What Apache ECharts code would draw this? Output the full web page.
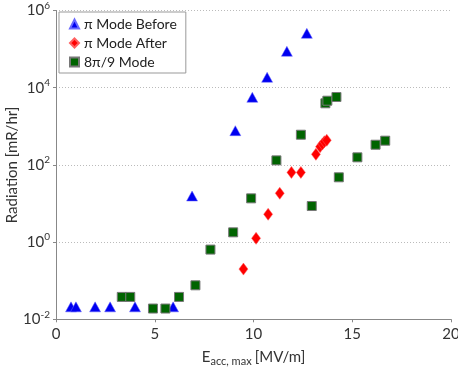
<!DOCTYPE html>
<html><head><meta charset="utf-8">
<script src="https://cdn.jsdelivr.net/npm/echarts@6/dist/echarts.min.js"></script>
<style>html,body{margin:0;padding:0;background:#fff}#c{width:458px;height:369px}</style>
</head><body><div id="c"></div>
<script>
const seriesNames = ['\u03c0 Mode Before', '\u03c0 Mode After', '8\u03c0/9 Mode'];
const beforeX = [0.76, 1.01, 1.98, 2.74, 4.00, 5.93, 6.89, 9.08, 9.94, 10.69, 11.69, 12.70];
const beforeY = [0.021, 0.021, 0.021, 0.021, 0.021, 0.021, 15.6, 770, 5640, 18600, 87700, 256000];
const afterX = [9.49, 10.13, 10.74, 11.33, 11.92, 12.40, 13.16, 13.37, 13.49, 13.59, 13.71];
const afterY = [0.20, 1.25, 5.25, 18.4, 64, 64, 188, 296, 347, 399, 434];
const modeX = [3.33, 3.76, 4.91, 5.54, 6.23, 7.06, 7.82, 8.97, 9.88, 12.95, 11.16, 12.40, 13.64, 13.74, 14.20, 14.32, 15.26, 16.18, 16.67];
const modeY = [0.038, 0.038, 0.019, 0.019, 0.038, 0.076, 0.64, 1.79, 13.6, 8.6, 131, 605, 3945, 4600, 5740, 47.7, 157, 333, 424];
const xTicks = [0, 5, 10, 15, 20];
const yTickExps = [-2, 0, 2, 4, 6];

const pairs = (xs, ys) => xs.map((x, i) => [x, ys[i]]);
const font = 'Lato, "DejaVu Sans", sans-serif';
const chart = echarts.init(document.getElementById('c'));
chart.setOption({
  animation: false,
  textStyle: { fontFamily: font },
  grid: { left: 56, right: 7, top: 10.5, bottom: 49.7, containLabel: false, outerBoundsMode: 'none' },
  legend: {
    orient: 'vertical', left: 59, top: 12, itemGap: 5,
    borderColor: '#999', borderWidth: 1, padding: [5, 9, 4, 10],
    itemWidth: 9, itemHeight: 9,
    textStyle: { fontSize: 14, color: '#222', fontFamily: font },
    data: [
      { name: seriesNames[0], icon: 'triangle' },
      { name: seriesNames[1], icon: 'diamond' },
      { name: seriesNames[2], icon: 'rect' }
    ]
  },
  xAxis: {
    type: 'value', min: xTicks[0], max: xTicks[xTicks.length - 1], interval: 5,
    axisLine: { lineStyle: { color: '#888' } },
    axisTick: { show: true, length: 3, lineStyle: { color: '#888' } },
    splitLine: { show: false },
    axisLabel: { fontSize: 15, color: '#333', margin: 7 },
    name: '{n|E}{sub|acc, max} {n|[MV/m]}',
    nameLocation: 'middle', nameGap: 27, nameMoveOverlap: false,
    nameTextStyle: {
      rich: {
        n: { fontSize: 15, color: '#333', fontFamily: font },
        sub: { fontSize: 11, color: '#333', fontFamily: font, padding: [10, 0, 0, 0] }
      }
    }
  },
  yAxis: {
    type: 'log', logBase: 10,
    min: Math.pow(10, yTickExps[0]), max: Math.pow(10, yTickExps[yTickExps.length - 1]),
    interval: 2, splitNumber: 4,
    axisLine: { show: true, lineStyle: { color: '#888' } },
    axisTick: { show: true, length: 3, lineStyle: { color: '#888' } },
    splitLine: { show: true, lineStyle: { color: '#bbb', type: [1, 2], width: 1 } },
    axisLabel: {
      margin: 6,
      formatter: v => '{b|10}{s|' + Math.round(Math.log10(v)) + '}',
      rich: {
        b: { fontSize: 15, color: '#333', fontFamily: font },
        s: { fontSize: 10, color: '#333', fontFamily: font, padding: [0, 0, 10, 0] }
      }
    },
    name: 'Radiation [mR/hr]', nameLocation: 'middle', nameGap: 36, nameMoveOverlap: false,
    nameTextStyle: { fontSize: 15, color: '#333' }
  },
  series: [
    { name: seriesNames[0], type: 'scatter', symbol: 'triangle', symbolSize: [11, 10],
      itemStyle: { color: '#0000f0', borderColor: '#6a6aff', borderWidth: 0.5, opacity: 1 }, data: pairs(beforeX, beforeY) },
    { name: seriesNames[1], type: 'scatter', symbol: 'diamond', symbolSize: [9, 12],
      itemStyle: { color: '#ff0000', borderColor: '#ff6060', borderWidth: 0.5, opacity: 1 }, data: pairs(afterX, afterY) },
    { name: seriesNames[2], type: 'scatter', symbol: 'rect', symbolSize: 9,
      itemStyle: { color: '#006400', borderColor: '#777', borderWidth: 1, opacity: 1 }, data: pairs(modeX, modeY) }
  ]
});
</script></body></html>
